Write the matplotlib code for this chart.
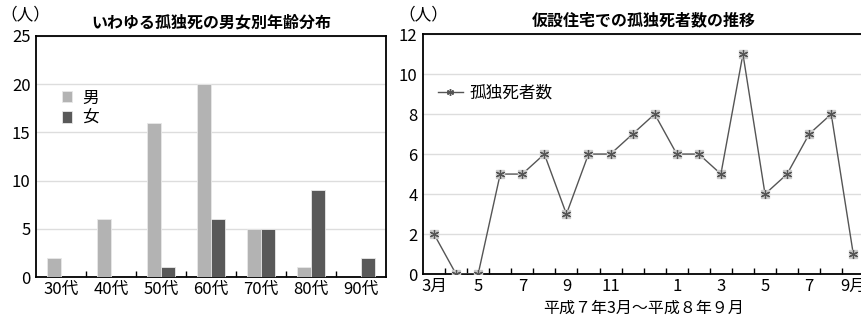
"""
孤独死のグラフ（男女別年齢分布と仮設住宅での推移）
"""

import matplotlib.pyplot as plt
import numpy as np

plt.rcParams["font.family"] = ["Noto Sans CJK JP", "DejaVu Sans"]

# 左: 男女別年齢分布
ages = ["30代", "40代", "50代", "60代", "70代", "80代", "90代"]
male = [2, 6, 16, 20, 5, 1, 0]
female = [0, 0, 1, 6, 5, 9, 2]

# 右: 月別の孤独死者数
deaths = [2, 0, 0, 5, 5, 6, 3, 6, 6, 7, 8, 6, 6, 5, 11, 4, 5, 7, 8, 1]
month_tick_pos = [0, 2, 4, 6, 8, 11, 13, 15, 17, 19]
month_tick_labels = ["3月", "5", "7", "9", "11", "1", "3", "5", "7", "9月"]

fig = plt.figure(figsize=(8.62, 3.24), dpi=100)

# ---- 左のグラフ ----
ax1 = fig.add_axes([0.0418, 0.145, 0.406, 0.744])
x = np.arange(len(ages))
w = 0.27
ax1.bar(x - 0.14, male, w, color="#b3b3b3", edgecolor="#e8e8e8", linewidth=0.6, label="男", zorder=3)
ax1.bar(x + 0.14, female, w, color="#595959", edgecolor="#e8e8e8", linewidth=0.6, label="女", zorder=3)
ax1.set_xlim(-0.5, len(ages) - 0.5)
ax1.set_ylim(0, 25)
ax1.set_yticks([0, 5, 10, 15, 20, 25])
ax1.set_xticks(x)
ax1.set_xticklabels(ages)
ax1.set_xticks(np.arange(0.5, len(ages) - 0.5, 1), minor=True)
ax1.tick_params(axis="x", which="major", length=0, labelsize=12, pad=3)
ax1.tick_params(axis="x", which="minor", direction="in", length=4, width=1)
ax1.tick_params(axis="y", length=0, labelsize=12, pad=4)
ax1.grid(axis="y", color="#dddddd", linewidth=1, zorder=0)
for s in ax1.spines.values():
    s.set_linewidth(1.3)
ax1.legend(loc="upper left", bbox_to_anchor=(0.03, 0.84), frameon=False,
           fontsize=12, handlelength=0.65, handleheight=0.65, handletextpad=0.6,
           labelspacing=0.2)
ax1.set_title("いわゆる孤独死の男女別年齢分布", fontsize=11.5, fontweight="bold", pad=6)
fig.text(0.0, 0.955, "（人）", fontsize=12, ha="left", va="center")

# ---- 右のグラフ ----
ax2 = fig.add_axes([0.4907, 0.154, 0.512, 0.741])
xm = np.arange(len(deaths))
ax2.plot(xm, deaths, color="#555555", linewidth=1, zorder=3)
ax2.plot(xm, deaths, linestyle="none", marker="s", markersize=5.5,
         markerfacecolor="#cccccc", markeredgecolor="#cccccc", zorder=4)
ax2.plot(xm, deaths, linestyle="none", marker=(6, 2, 0), markersize=6.5,
         markeredgecolor="#555555", markeredgewidth=0.9, zorder=5)
ax2.plot([], [], color="#555555", linewidth=1, marker=(6, 2, 0), markersize=5,
         markeredgecolor="#555555", label="孤独死者数")
ax2.set_xlim(-0.5, len(deaths) - 0.5)
ax2.set_ylim(0, 12)
ax2.set_yticks(range(0, 13, 2))
ax2.set_xticks(month_tick_pos)
ax2.set_xticklabels(month_tick_labels)
ax2.set_xticks(np.arange(0.5, len(deaths) - 0.5, 1), minor=True)
ax2.tick_params(axis="x", which="major", length=0, labelsize=12, pad=3)
ax2.tick_params(axis="x", which="minor", direction="in", length=4, width=1)
ax2.tick_params(axis="y", length=0, labelsize=12, pad=4)
ax2.grid(axis="y", color="#dddddd", linewidth=1, zorder=0)
for s in ax2.spines.values():
    s.set_linewidth(1.3)
ax2.legend(loc="upper left", bbox_to_anchor=(0.0, 0.85), frameon=False,
           fontsize=12, handlelength=1.5, handletextpad=0.4)
ax2.set_title("仮設住宅での孤独死者数の推移", fontsize=11.5, fontweight="bold", pad=6)
ax2.set_xlabel("平成７年3月～平成８年９月", fontsize=11.5, labelpad=3)
fig.text(0.462, 0.955, "（人）", fontsize=12, ha="left", va="center")

fig.savefig("out.png", dpi=100)
